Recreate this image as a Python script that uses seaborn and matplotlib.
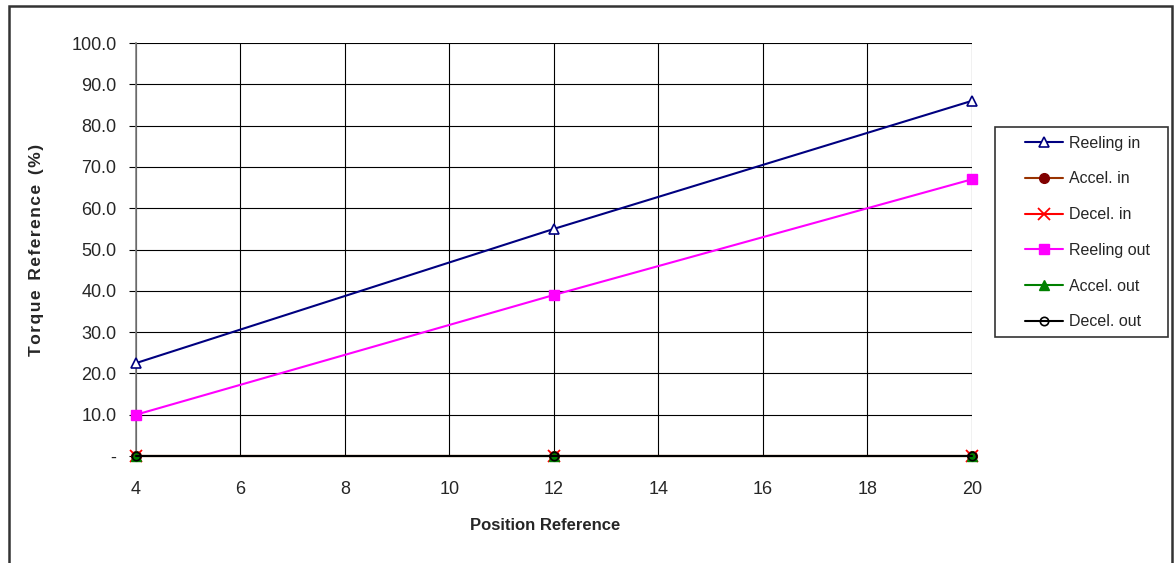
import matplotlib
matplotlib.use("Agg")
import matplotlib.pyplot as plt
import seaborn as sns
import pandas as pd
from matplotlib.patches import Rectangle

sns.set_theme(style="white")
plt.rcParams['font.family'] = ['Liberation Sans', 'DejaVu Sans']

positions = [4, 12, 20]
reeling_in = [22.5, 55.0, 86.0]
accel_in = [0.0, 0.0, 0.0]
decel_in = [0.0, 0.0, 0.0]
reeling_out = [10.0, 39.0, 67.0]
accel_out = [0.0, 0.0, 0.0]
decel_out = [0.0, 0.0, 0.0]

series_names = ["Reeling in", "Accel. in", "Decel. in", "Reeling out", "Accel. out", "Decel. out"]
series_values = [reeling_in, accel_in, decel_in, reeling_out, accel_out, decel_out]
x_ticks = [4, 6, 8, 10, 12, 14, 16, 18, 20]
y_ticks = [0, 10, 20, 30, 40, 50, 60, 70, 80, 90, 100]
y_tick_labels = ["-", "10.0", "20.0", "30.0", "40.0", "50.0", "60.0", "70.0", "80.0", "90.0", "100.0"]

styles = {
    "Reeling in": dict(color="#000080", marker="^", mfc="white", mec="#000080", ms=7, mew=1.2),
    "Accel. in": dict(color="#993300", marker="o", mfc="#800000", mec="#800000", ms=7, mew=1),
    "Decel. in": dict(color="#FF0000", marker="x", mfc="#FF0000", mec="#FF0000", ms=8, mew=1.3),
    "Reeling out": dict(color="#FF00FF", marker="s", mfc="#FF00FF", mec="#FF00FF", ms=7, mew=1),
    "Accel. out": dict(color="#008000", marker="^", mfc="#008000", mec="#008000", ms=7, mew=1),
    "Decel. out": dict(color="#000000", marker="o", mfc="none", mec="#000000", ms=6, mew=1.2),
}

rows = []
for name, vals in zip(series_names, series_values):
    for x, v in zip(positions, vals):
        rows.append({"Position": x, "Torque": v, "Series": name})
df = pd.DataFrame(rows)

fig = plt.figure(figsize=(11.75, 5.63), dpi=100)
ax = fig.add_axes([0.1157, 0.19, 0.7115, 0.7336])

for name in series_names:
    st = styles[name]
    sub = df[df["Series"] == name]
    sns.lineplot(data=sub, x="Position", y="Torque", ax=ax, color=st["color"], linewidth=1.5,
                 marker=st["marker"], markersize=st["ms"], markerfacecolor=st["mfc"],
                 markeredgecolor=st["mec"], markeredgewidth=st["mew"], label=name, clip_on=False,
                 zorder=3)

ax.set_xlim(4, 20)
ax.set_ylim(0, 100)
ax.set_xticks(x_ticks)
ax.set_yticks(y_ticks)
ax.set_yticklabels(y_tick_labels)
ax.grid(True, color="black", linewidth=0.8)
for s in ["top", "right"]:
    ax.spines[s].set_visible(False)
ax.spines["left"].set_color("#808080")
ax.spines["bottom"].set_color("#808080")
ax.spines["left"].set_linewidth(1.2)
ax.spines["bottom"].set_linewidth(1.2)
ax.tick_params(axis="y", which="both", left=True, length=5, width=0.8, color="black", labelsize=13, pad=9)
ax.tick_params(axis="x", which="both", bottom=False, labelsize=13, pad=12)
ax.set_xlabel("Position Reference", fontsize=12, fontweight="bold")
ax.xaxis.set_label_coords(0.49, -0.15)
hs = "\u200a"
ylab = hs.join("Torque") + "  " + hs.join("Reference") + "  " + "(" + hs + "%" + hs + ")"
ax.set_ylabel(ylab, fontsize=12.5, fontweight="bold")
ax.yaxis.set_label_coords(-0.110, 0.5)

leg = ax.legend(loc="upper left", bbox_to_anchor=(1.054, 0.795), frameon=False,
                prop={'family': ['Liberation Sans'], 'size': 11.5}, handlelength=2.4, labelspacing=1.3,
                borderpad=0.0, handletextpad=0.35)

fig.patches.append(Rectangle((995 / 1175, 1 - 337 / 563), 173 / 1175, 210 / 563, transform=fig.transFigure,
                             fill=False, edgecolor="#333333", linewidth=1.2))

fig.patches.append(Rectangle((8.5 / 1175, -0.05), (1171.5 - 8.5) / 1175, 1.05 - 5.5 / 563,
                             transform=fig.transFigure, fill=False, edgecolor="#333333", linewidth=1.8))

fig.savefig("out.png", dpi=100)
